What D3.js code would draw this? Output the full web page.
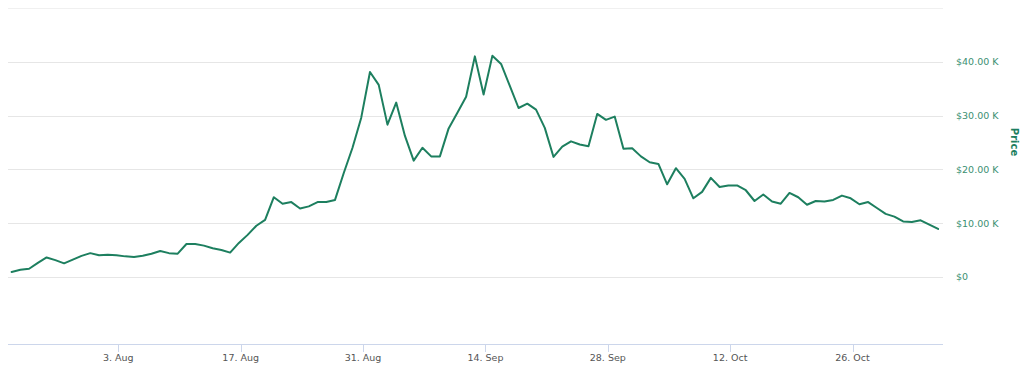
<!DOCTYPE html>
<html>
<head>
<meta charset="utf-8">
<script src="https://cdn.jsdelivr.net/npm/d3@7"></script>
<style>
  body { margin: 0; background: #fff; }
  svg { display: block; font-family: "DejaVu Sans", "Lucida Grande", sans-serif; }
</style>
</head>
<body>
<svg id="chart" width="1023" height="372"></svg>
<script>
// daily price, in thousands of dollars, from the first day on
const firstDay = new Date(Date.UTC(2020, 6, 21, 19));
const prices = [
  0.9, 1.3, 1.5, 2.6, 3.6, 3.1, 2.5, 3.2, 3.9, 4.4,
  4.0, 4.1, 4.0, 3.8, 3.7, 3.9, 4.3, 4.8, 4.4, 4.3,
  6.1, 6.1, 5.8, 5.3, 5.0, 4.5, 6.3, 7.8, 9.5, 10.6,
  14.8, 13.6, 13.9, 12.7, 13.1, 13.9, 13.9, 14.3, 19.3, 24.0,
  29.6, 38.1, 35.7, 28.3, 32.4, 26.2, 21.6, 24.0, 22.4, 22.4,
  27.6, 30.5, 33.5, 41.0, 33.9, 41.1, 39.6, 35.5, 31.4, 32.2,
  31.1, 27.7, 22.3, 24.2, 25.2, 24.6, 24.3, 30.3, 29.2, 29.8,
  23.8, 23.9, 22.4, 21.3, 21.0, 17.2, 20.2, 18.2, 14.6, 15.8,
  18.4, 16.7, 17.0, 17.0, 16.1, 14.1, 15.3, 14.0, 13.6, 15.6,
  14.8, 13.4, 14.1, 14.0, 14.3, 15.1, 14.6, 13.5, 13.9, 12.8,
  11.7, 11.2, 10.3, 10.2, 10.5, 9.7, 8.9
];
const yTicks = [0, 10, 20, 30, 40, 50];
const yLabels = ["$0", "$10.00 K", "$20.00 K", "$30.00 K", "$40.00 K", ""];
const xTickDates = [
  new Date(Date.UTC(2020, 7, 3)), new Date(Date.UTC(2020, 7, 17)),
  new Date(Date.UTC(2020, 7, 31)), new Date(Date.UTC(2020, 8, 14)),
  new Date(Date.UTC(2020, 8, 28)), new Date(Date.UTC(2020, 9, 12)),
  new Date(Date.UTC(2020, 9, 26))
];
const xTickLabels = ["3. Aug", "17. Aug", "31. Aug", "14. Sep", "28. Sep", "12. Oct", "26. Oct"];

const points = prices.map((v, i) => ({ date: d3.utcDay.offset(firstDay, i), value: v }));

const svg = d3.select("#chart");
const plot = { left: 8, right: 943, top: 8, bottom: 344 };

const x = d3.scaleUtc()
  .domain([new Date(Date.UTC(2020, 6, 21, 9)), new Date(Date.UTC(2020, 10, 5, 8, 30))])
  .range([plot.left, plot.right]);
const y = d3.scaleLinear().domain([-12.5, 50]).range([plot.bottom, plot.top]);

const green = "#1d7f5f";

// grid
svg.append("g")
  .selectAll("line")
  .data(yTicks)
  .join("line")
  .attr("x1", plot.left).attr("x2", plot.right)
  .attr("y1", d => Math.round(y(d)) + 0.5)
  .attr("y2", d => Math.round(y(d)) + 0.5)
  .attr("stroke", d => d === 50 ? "#f0f0f0" : "#e6e6e6")
  .attr("stroke-width", 1);

// y labels on the right
svg.append("g")
  .selectAll("text")
  .data(yTicks)
  .join("text")
  .attr("x", 956)
  .attr("y", d => y(d) + 3.5)
  .attr("fill", "#3b8f72")
  .attr("font-size", "9.5px")
  .text((d, i) => yLabels[i]);

svg.append("text")
  .attr("transform", "translate(1011,142) rotate(90)")
  .attr("text-anchor", "middle")
  .attr("fill", green)
  .attr("font-size", "10px")
  .attr("font-weight", "bold")
  .text("Price");

// x axis
const xAxis = svg.append("g").attr("transform", `translate(0,${plot.bottom})`);
xAxis.append("line")
  .attr("x1", plot.left).attr("x2", plot.right)
  .attr("y1", 0.5).attr("y2", 0.5)
  .attr("stroke", "#ccd6eb");
xAxis.selectAll("line.tick")
  .data(xTickDates)
  .join("line")
  .attr("class", "tick")
  .attr("x1", d => Math.round(x(d)) + 0.5)
  .attr("x2", d => Math.round(x(d)) + 0.5)
  .attr("y1", 0).attr("y2", 8)
  .attr("stroke", "#ccd6eb");
xAxis.selectAll("text")
  .data(xTickDates)
  .join("text")
  .attr("x", d => x(d))
  .attr("y", 17)
  .attr("text-anchor", "middle")
  .attr("fill", "#555")
  .attr("font-size", "9.5px")
  .text((d, i) => xTickLabels[i]);

// price line
const line = d3.line()
  .x(d => x(d.date))
  .y(d => y(d.value));

svg.append("path")
  .datum(points)
  .attr("d", line)
  .attr("fill", "none")
  .attr("stroke", green)
  .attr("stroke-width", 2)
  .attr("stroke-linejoin", "round")
  .attr("stroke-linecap", "round");
</script>
</body>
</html>
